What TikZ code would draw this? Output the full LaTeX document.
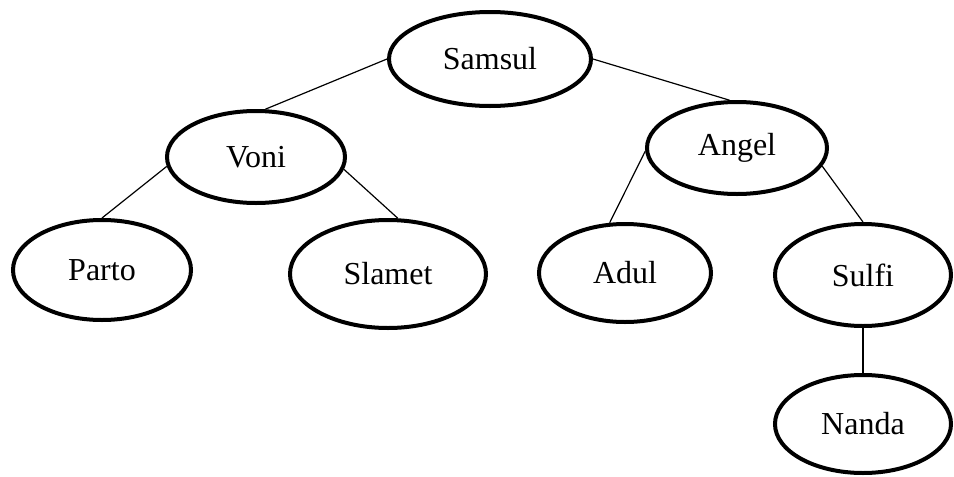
\documentclass[tikz,border=0pt]{standalone}
\usepackage{fontspec}
\setmainfont{Liberation Serif}
\usetikzlibrary{shapes.geometric}
\begin{document}
\begin{tikzpicture}[x=1pt,y=-1pt,
  person/.style={draw=black, line width=4pt, ellipse, inner sep=0pt,
    font=\fontsize{32}{36}\selectfont, fill=white},
  link/.style={draw=black, line width=1.2pt}]
\useasboundingbox (0,0) rectangle (954,477);
\node[person, minimum width=202pt, minimum height=94pt] (samsul) at (490,59) {Samsul};
\node[person, minimum width=178pt, minimum height=92pt] (voni) at (256,157) {Voni};
\node[person, minimum width=180pt, minimum height=92pt] (angel) at (737,148) {Angel};
\node[person, minimum width=178pt, minimum height=100pt] (parto) at (102,270) {Parto};
\node[person, minimum width=196pt, minimum height=108pt] (slamet) at (388,274) {Slamet};
\node[person, minimum width=172pt, minimum height=98pt] (adul) at (625,273) {Adul};
\node[person, minimum width=176pt, minimum height=102pt] (sulfi) at (863,275) {Sulfi};
\node[person, minimum width=176pt, minimum height=98pt] (nanda) at (863,424) {Nanda};
\draw[link] (samsul.west) -- (voni.79);
\draw[link] (samsul.east) -- (angel.99);
\draw[link] (voni.186) -- (parto.north);
\draw[link] (voni.352) -- (slamet.80);
\draw[link] (angel.182) -- (adul.107);
\draw[link] (angel.348) -- (sulfi.90);
\draw[link] (sulfi.south) -- (nanda.north);
\end{tikzpicture}
\end{document}
